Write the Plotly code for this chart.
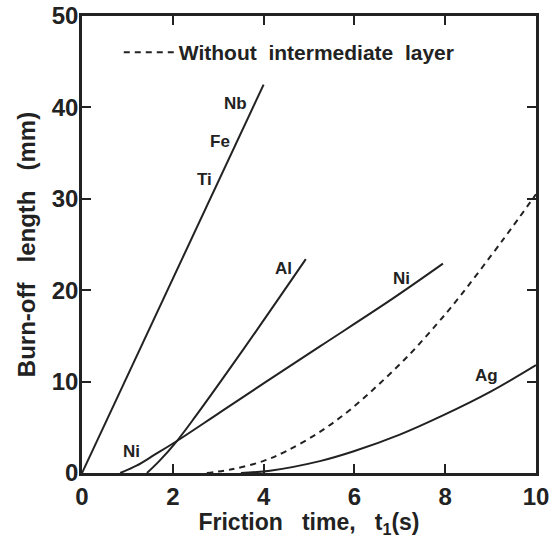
import plotly.graph_objects as go

# ---- data ----
nbfeti_x = [0.0, 4.0]
nbfeti_y = [0.0, 42.5]

al_x = [1.43, 1.7, 2.09, 2.5, 3.55, 4.93]
al_y = [0.0, 1.3, 3.5, 6.2, 13.5, 23.4]

ni_x = [0.84, 1.2, 1.6, 2.09, 3.0, 4.0, 5.24, 6.85, 7.95]
ni_y = [0.0, 0.8, 2.0, 3.5, 6.5, 9.8, 13.85, 19.1, 22.9]

ag_x = [3.5, 4.14, 5.24, 5.97, 7.0, 7.95, 9.0, 10.0]
ag_y = [0.0, 0.25, 1.3, 2.35, 4.2, 6.3, 8.9, 11.8]

without_x = [2.75, 3.3, 3.99, 4.5, 5.24, 5.9, 6.56, 7.22, 7.8, 8.24, 9.27, 10.0]
without_y = [0.0, 0.4, 1.3, 2.4, 4.5, 6.9, 9.8, 13.0, 16.2, 18.8, 25.5, 30.5]

label_text = ["Nb", "Fe", "Ti", "Al", "Ni", "Ni", "Ag"]
label_x = [3.38, 3.04, 2.69, 4.43, 7.03, 1.10, 8.90]
label_y = [40.4, 36.3, 32.1, 22.35, 21.25, 2.31, 10.63]

x_ticks = [0, 2, 4, 6, 8, 10]
y_ticks = [0, 10, 20, 30, 40, 50]

INK = "#222222"
FONT = "Liberation Sans, Arial, Helvetica, sans-serif"

fig = go.Figure()
solid = dict(color=INK, width=2)
fig.add_trace(go.Scatter(x=nbfeti_x, y=nbfeti_y, mode="lines", line=solid, showlegend=False))
fig.add_trace(go.Scatter(x=al_x, y=al_y, mode="lines", line=dict(solid, shape="spline"), showlegend=False))
fig.add_trace(go.Scatter(x=ni_x, y=ni_y, mode="lines", line=dict(solid, shape="spline"), showlegend=False))
fig.add_trace(go.Scatter(x=ag_x, y=ag_y, mode="lines", line=dict(solid, shape="spline"), showlegend=False))
fig.add_trace(go.Scatter(x=without_x, y=without_y, mode="lines",
                         name="Without\u00a0 intermediate\u00a0 layer",
                         line=dict(color=INK, width=2, dash="6px,5px", shape="spline"),
                         showlegend=True))

for t, lx, ly in zip(label_text, label_x, label_y):
    fig.add_annotation(x=lx, y=ly, text=t, showarrow=False, xanchor="center", yanchor="middle",
                       font=dict(family=FONT, size=17, color=INK, weight="bold"))

axis_common = dict(
    ticks="inside", ticklen=9, tickwidth=1.5, tickcolor=INK,
    showline=True, linewidth=2.5, linecolor=INK, mirror="ticks",
    showgrid=False, zeroline=False,
    tickfont=dict(family=FONT, size=24, color=INK, weight="bold"),
)

fig.update_xaxes(range=[0, 10], tickvals=x_ticks, ticktext=[str(v) for v in x_ticks],
                 title=dict(text="Friction\u00a0\u00a0 time,\u00a0\u00a0 t<sub>1</sub>(s)", standoff=5,
                            font=dict(family=FONT, size=23, color=INK, weight="bold")),
                 **axis_common)
fig.update_yaxes(range=[0, 50], tickvals=y_ticks, ticktext=[str(v) for v in y_ticks],
                 ticklabelstandoff=-4,
                 title=dict(text="Burn-off\u00a0\u00a0 length\u00a0\u00a0 (mm)", standoff=10,
                            font=dict(family=FONT, size=24, color=INK, weight="bold")),
                 **axis_common)

fig.update_layout(
    width=555, height=538,
    margin=dict(l=82, r=19, t=16, b=65, autoexpand=False),
    paper_bgcolor="white", plot_bgcolor="white",
    legend=dict(x=0.081, y=0.92, xanchor="left", yanchor="middle",
                bgcolor="rgba(0,0,0,0)", itemwidth=50,
                font=dict(family=FONT, size=21, color=INK, weight="bold")),
)

fig.write_html("out.html")
